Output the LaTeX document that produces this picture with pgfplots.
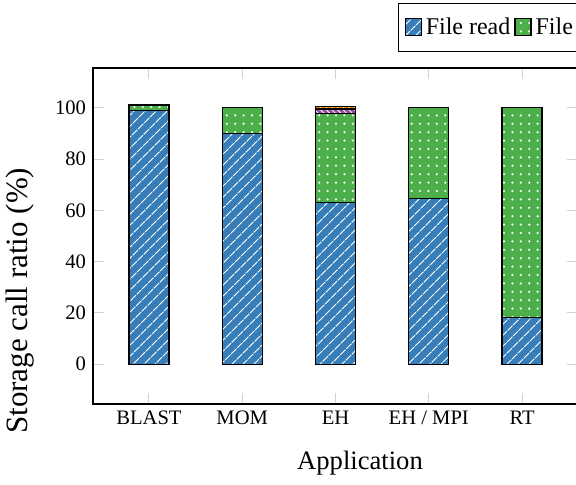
\documentclass[border=0pt]{standalone}
\usepackage{pgfplots}
\pgfplotsset{compat=1.18}
\usetikzlibrary{patterns.meta}
\usepackage{fontspec}
\setmainfont{Liberation Serif}
\definecolor{cblue}{HTML}{377EB8}
\definecolor{cgreen}{HTML}{4DAF4A}
\definecolor{cpurple}{HTML}{984EA3}
\definecolor{corange}{HTML}{FF7F00}
\begin{document}
\begin{tikzpicture}
\begin{axis}[
  name=ax,
  scale only axis,
  width=242.5pt, height=168pt,
  ybar stacked,
  bar width=20pt,
  xmin=-0.6, xmax=4.6,
  ymin=-15.5, ymax=115.5,
  xtick={0,1,2,3,4},
  xticklabels={BLAST,MOM,EH,EH / MPI,RT},
  ytick={0,20,40,60,80,100},
  tick align=inside,
  major tick length=5.5pt,
  tick style={gray!35, line width=0.5pt},
  axis line style={black, line width=0.6pt},
  /pgf/number format/assume math mode=true,
  ticklabel style={font=\fontsize{10.3}{12}\selectfont},
  xlabel={Application},
  ylabel={Storage call ratio (\%)},
  xlabel style={font=\fontsize{13.3}{15}\selectfont, at={(axis description cs:0.5505,-0.1756)}, anchor=center},
  ylabel style={font=\fontsize{15.5}{17}\selectfont, at={(axis description cs:-0.1505,0.307)}, anchor=center},
  legend columns=-1,
  legend style={at={(0.629,1.193)}, anchor=north west, draw=black, line width=0.5pt,
    font=\fontsize{12}{14}\selectfont, inner xsep=3pt, inner ysep=5pt,
    /tikz/every even column/.append style={column sep=0pt}},
  legend image code/.code={\draw[#1] (0pt,-4pt) rectangle (8pt,4.5pt);},
]
\addplot[fill=cblue, draw=black, line width=0.6pt,
  postaction={pattern={Lines[angle=45,distance=4pt,line width=0.5pt]}, pattern color=white}]
  coordinates {(0,98.9) (1,90.0) (2,63.0) (3,64.5) (4,18.3)};
\addplot[fill=cgreen, draw=black, line width=0.6pt,
  postaction={pattern={Dots[distance=4.2pt,radius=0.6pt]}, pattern color=white}]
  coordinates {(0,2.2) (1,10.0) (2,34.9) (3,35.5) (4,81.7)};
\addplot[fill=cpurple, draw=black, line width=0.6pt,
  postaction={pattern={Lines[angle=-45,distance=2pt,line width=0.4pt]}, pattern color=white}]
  coordinates {(0,0) (1,0) (2,1.6) (3,0) (4,0)};
\addplot[fill=corange, draw=black, line width=0.6pt,
  postaction={pattern={Lines[angle=45,distance=2pt,line width=0.4pt]}, pattern color=white}]
  coordinates {(0,0) (1,0) (2,1.0) (3,0) (4,0)};
\legend{File read, File write, File open, File close}
\end{axis}
\pgfresetboundingbox
\useasboundingbox ([shift={(-46.5pt,-40.5pt)}]ax.south west) rectangle ([shift={(241.5pt,202pt)}]ax.south west);
\end{tikzpicture}
\end{document}
